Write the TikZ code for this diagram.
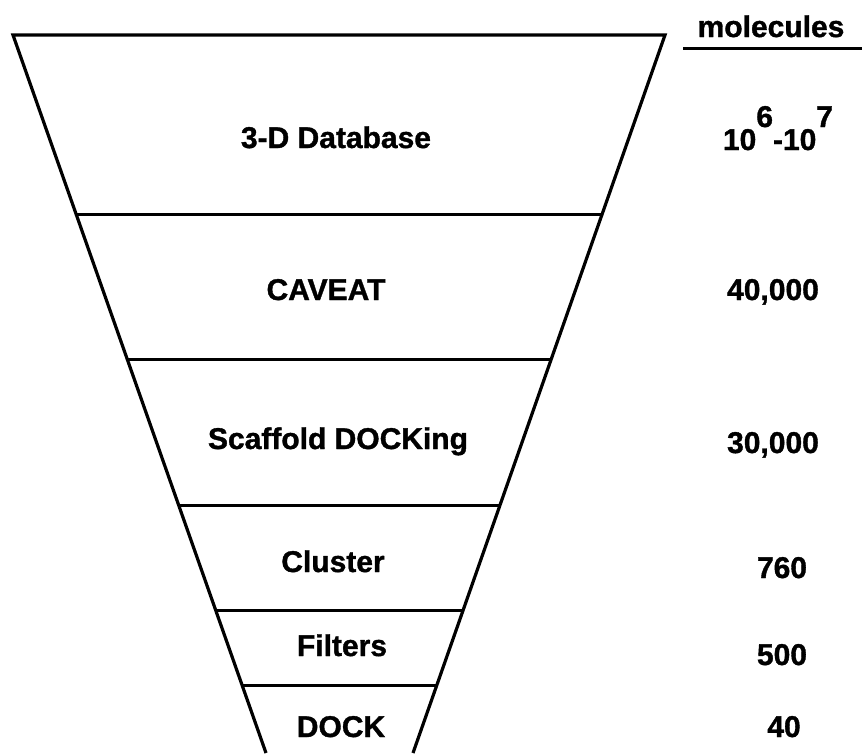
\documentclass[tikz,border=0pt]{standalone}
\usepackage{fontspec}
\setmainfont{Liberation Sans}[BoldFeatures={FakeBold=1.2}]
\usetikzlibrary{calc}

\begin{document}
\begin{tikzpicture}[x=1pt, y=-1pt,
  funnel/.style={line width=3.2pt, line join=miter, black},
  rung/.style={line width=3pt, black},
  stage/.style={inner sep=0pt, anchor=base, font=\fontsize{30}{36}\selectfont\bfseries},
  count/.style={stage}]
  \useasboundingbox (0,0) rectangle (862,753);
  % funnel outline
  \coordinate (tl) at (13,35);
  \coordinate (tr) at (665,35);
  \coordinate (bl) at (266,753);
  \coordinate (br) at (413,753);
  \draw[funnel] (bl) -- (tl) -- (tr) -- (br);
  % rungs between the stages
  \foreach \t/\n in {0.2493/a, 0.4513/b, 0.6546/c, 0.8022/d, 0.9053/e} {
    \coordinate (l\n) at ($(tl)!\t!(bl)$);
    \coordinate (r\n) at ($(tr)!\t!(br)$);
    \draw[rung] (l\n) -- (r\n);
  }
  % stage names
  \node[stage] (db) at (336,148) {3-D Database};
  \node[stage] (caveat) at (326,300) {CAVEAT};
  \node[stage] (scaffold) at (338,449) {Scaffold DOCKing};
  \node[stage] (cluster) at (333,572) {Cluster};
  \node[stage] (filters) at (342,656) {Filters};
  \node[stage] (dock) at (341,737) {DOCK};
  % molecule counts
  \node[count] (head) at (771,37) {molecules};
  \coordinate (ulA) at (683,48);
  \coordinate (ulB) at (862,48);
  \draw[rung] (ulA) -- (ulB);
  \node[count] (ndb) at (778,150) {10\raisebox{23pt}{6}-10\raisebox{23pt}{7}};
  \node[count] (ncaveat) at (773,300) {40,000};
  \node[count] (nscaffold) at (773,453) {30,000};
  \node[count] (ncluster) at (782,578) {760};
  \node[count] (nfilters) at (782,665) {500};
  \node[count] (ndock) at (784,737) {40};
\end{tikzpicture}
\end{document}
